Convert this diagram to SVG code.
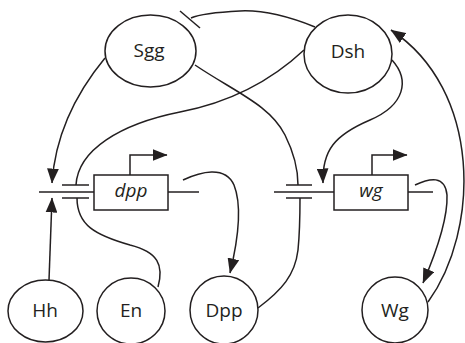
<svg xmlns="http://www.w3.org/2000/svg" width="465" height="343" viewBox="0 0 465 343">
<style>
  .n { fill: #ffffff; stroke: #231f20; stroke-width: 1.5; }
  .ln { fill: none; stroke: #231f20; stroke-width: 1.5; }
  .t { font-family: "Open Sans", "Liberation Sans", sans-serif; font-size: 19px; fill: #231f20; text-anchor: middle; }
  .gi { font-style: italic; }
</style>
<defs>
  <marker id="ah" markerUnits="userSpaceOnUse" markerWidth="15" markerHeight="12" viewBox="0 0 14 11" refX="13.5" refY="5.5" orient="auto">
    <path d="M0,0 L14,5.5 L0,11 Z" fill="#231f20"/>
  </marker>
  <marker id="ahs" markerUnits="userSpaceOnUse" markerWidth="15" markerHeight="12" viewBox="0 0 14 11" refX="13.5" refY="5.5" orient="auto">
    <path d="M0,0 L14,5.5 L0,11 Z" fill="#231f20"/>
  </marker>
</defs>
<rect width="465" height="343" fill="#ffffff"/>

<g id="connectors">
  <!-- Sgg -> dpp site -->
  <path class="ln" d="M105,58 C72,98 55,138 52,183" marker-end="url(#ah)"/>
  <!-- Hh -> dpp site -->
  <path class="ln" d="M49,280 L52,198" marker-end="url(#ah)"/>
  <!-- Dsh -| dpp site (top bar) -->
  <path class="ln" d="M304,50 C272,80 232,102 180,112 C120,124 78,150 76,185"/>
  <!-- En -| dpp site (bottom bar) -->
  <path class="ln" d="M158,287 C164,265 158,252 130,245 C95,235 77,225 77,198"/>
  <!-- Sgg -| wg site (top bar) -->
  <path class="ln" d="M195,65 C235,92 270,105 285,135 C295,155 298,170 298,185"/>
  <!-- Dpp -| wg site (bottom bar) -->
  <path class="ln" d="M258,308 C282,290 295,275 298,250 C300,230 300,215 300,198"/>
  <!-- Dsh -> wg site -->
  <path class="ln" d="M392,60 C410,80 405,105 370,120 C335,135 322,150 323,183" marker-end="url(#ah)"/>
  <!-- Wg -> Dsh -->
  <path class="ln" d="M428,302 C480,230 482,90 391,30" marker-end="url(#ah)"/>
  <!-- dpp -> Dpp -->
  <path class="ln" d="M183,180 C200,172 225,165 234,185 C242,205 238,240 230,273" marker-end="url(#ah)"/>
  <!-- wg -> Wg -->
  <path class="ln" d="M415,185 C430,178 445,175 447,195 C448,220 435,255 423,283" marker-end="url(#ah)"/>
  <!-- Sgg -| Dsh -->
  <path class="ln" d="M315,27 C285,15 260,10 240,11 C220,12 200,14 191,18"/>
  <line class="ln" x1="180" y1="11" x2="200" y2="28"/>
  <!-- binding-site bars -->
  <line class="ln" x1="62" y1="185" x2="89" y2="185"/>
  <line class="ln" x1="62" y1="198" x2="89" y2="198"/>
  <line class="ln" x1="286" y1="185" x2="312" y2="185"/>
  <line class="ln" x1="286" y1="198" x2="312" y2="198"/>
</g>

<g id="gene-dpp">
  <line class="ln" x1="39" y1="192" x2="94" y2="192"/>
  <line class="ln" x1="168" y1="192" x2="199" y2="192"/>
  <rect class="n" x="94" y="175" width="74" height="35"/>
  <path class="ln" d="M130,175 V155 H167" marker-end="url(#ahs)"/>
  <text class="t gi" x="131" y="197">dpp</text>
</g>

<g id="gene-wg">
  <line class="ln" x1="274" y1="192" x2="334" y2="192"/>
  <line class="ln" x1="408" y1="192" x2="433" y2="192"/>
  <rect class="n" x="334" y="175" width="74" height="35"/>
  <path class="ln" d="M372,175 V155 H407" marker-end="url(#ahs)"/>
  <text class="t gi" x="371" y="197">wg</text>
</g>

<g id="Sgg">
  <ellipse class="n" cx="150.5" cy="51" rx="45.5" ry="36"/>
  <text class="t" x="149" y="57">Sgg</text>
</g>
<g id="Dsh">
  <ellipse class="n" cx="348" cy="54" rx="44" ry="39"/>
  <text class="t" x="348" y="58">Dsh</text>
</g>
<g id="Hh">
  <ellipse class="n" cx="45.5" cy="311" rx="37.5" ry="31"/>
  <text class="t" x="45" y="317">Hh</text>
</g>
<g id="En">
  <ellipse class="n" cx="131" cy="311" rx="34" ry="33"/>
  <text class="t" x="131" y="317">En</text>
</g>
<g id="Dpp">
  <circle class="n" cx="224" cy="310" r="34"/>
  <text class="t" x="224" y="317">Dpp</text>
</g>
<g id="Wg">
  <circle class="n" cx="395" cy="310" r="33"/>
  <text class="t" x="395" y="317">Wg</text>
</g>
</svg>
